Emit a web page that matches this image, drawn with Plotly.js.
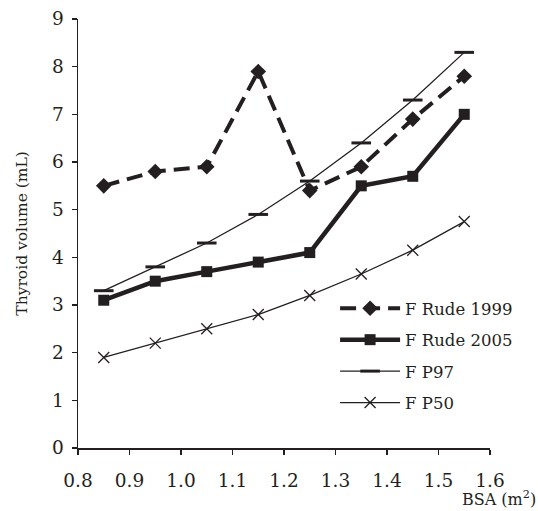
<!DOCTYPE html>
<html>
<head>
<meta charset="utf-8">
<script src="https://cdn.plot.ly/plotly-3.0.1.min.js"></script>
<style>html,body{margin:0;padding:0;background:#fff;}#chart{width:538px;height:511px;}</style>
</head>
<body>
<div id="chart"></div>
<script>
const bsa = [0.85, 0.95, 1.05, 1.15, 1.25, 1.35, 1.45, 1.55];
const rude1999 = [5.5, 5.8, 5.9, 7.9, 5.4, 5.9, 6.9, 7.8];
const rude2005 = [3.1, 3.5, 3.7, 3.9, 4.1, 5.5, 5.7, 7.0];
const p97 = [3.3, 3.8, 4.3, 4.9, 5.6, 6.4, 7.3, 8.3];
const p50 = [1.9, 2.2, 2.5, 2.8, 3.2, 3.65, 4.15, 4.75];
const seriesNames = ['F Rude 1999', 'F Rude 2005', 'F P97', 'F P50'];
const xTicks = [0.8, 0.9, 1.0, 1.1, 1.2, 1.3, 1.4, 1.5, 1.6];
const yTicks = [0, 1, 2, 3, 4, 5, 6, 7, 8, 9];

const ink = '#231f20';
const font = 'DejaVu Serif, Liberation Serif, serif';

const traces = [
  {x: bsa, y: rude1999, name: seriesNames[0], legendgroup: 'a', mode: 'lines+markers',
   line: {color: ink, width: 4, dash: '16px,8px'},
   marker: {symbol: 'diamond', size: 12, color: ink}},
  {x: bsa, y: rude2005, name: seriesNames[1], legendgroup: 'b', mode: 'lines+markers',
   line: {color: ink, width: 4.5},
   marker: {symbol: 'square', size: 11, color: ink}},
  {x: bsa, y: p97, name: seriesNames[2], legendgroup: 'c', mode: 'lines+markers',
   line: {color: ink, width: 1.3},
   marker: {symbol: 'line-ew', size: 14, color: ink, line: {color: ink, width: 3}}},
  {x: bsa, y: p50, name: seriesNames[3], legendgroup: 'd', mode: 'lines+markers',
   line: {color: ink, width: 1.3},
   marker: {symbol: 'x-thin', size: 11, color: ink, line: {color: ink, width: 1.3}}}
];

const layout = {
  width: 538, height: 511,
  margin: {l: 78, r: 48, t: 19, b: 63},
  paper_bgcolor: '#fff', plot_bgcolor: '#fff',
  font: {family: font, size: 17, color: ink},
  showlegend: true,
  legend: {x: 0.624, y: 0.366, xanchor: 'left', yanchor: 'top',
           font: {family: font, size: 16.5, color: ink},
           bgcolor: 'rgba(0,0,0,0)', tracegroupgap: 7, itemwidth: 60},
  xaxis: {range: [0.8, 1.6], tickvals: xTicks, ticktext: xTicks.map(v => v.toFixed(1)),
          showline: true, linecolor: ink, linewidth: 1.5, ticks: 'outside', ticklen: 5,
          tickcolor: ink, tickwidth: 1.5, showgrid: false, zeroline: false,
          ticklabelstandoff: 10,
          tickfont: {family: font, size: 18.5, color: ink}},
  yaxis: {range: [0, 9], tickvals: yTicks, ticktext: yTicks.map(String),
          showline: true, linecolor: ink, linewidth: 1.5, ticks: 'outside', ticklen: 5,
          tickcolor: ink, tickwidth: 1.5, showgrid: false, zeroline: false,
          ticklabelstandoff: 4,
          tickfont: {family: font, size: 18.5, color: ink}},
  annotations: [
    {text: 'Thyroid volume (mL)', xref: 'paper', yref: 'paper', x: -0.138, y: 0.5,
     xanchor: 'center', yanchor: 'middle', textangle: -90, showarrow: false,
     font: {family: font, size: 15.5, color: ink}},
    {text: 'BSA (m<sup>2</sup>)', xref: 'paper', yref: 'paper', x: 1.116, y: -0.118,
     xanchor: 'right', yanchor: 'middle', showarrow: false,
     font: {family: font, size: 16, color: ink}}
  ]
};

Plotly.newPlot('chart', traces, layout, {displayModeBar: false, staticPlot: true});
</script>
</body>
</html>
